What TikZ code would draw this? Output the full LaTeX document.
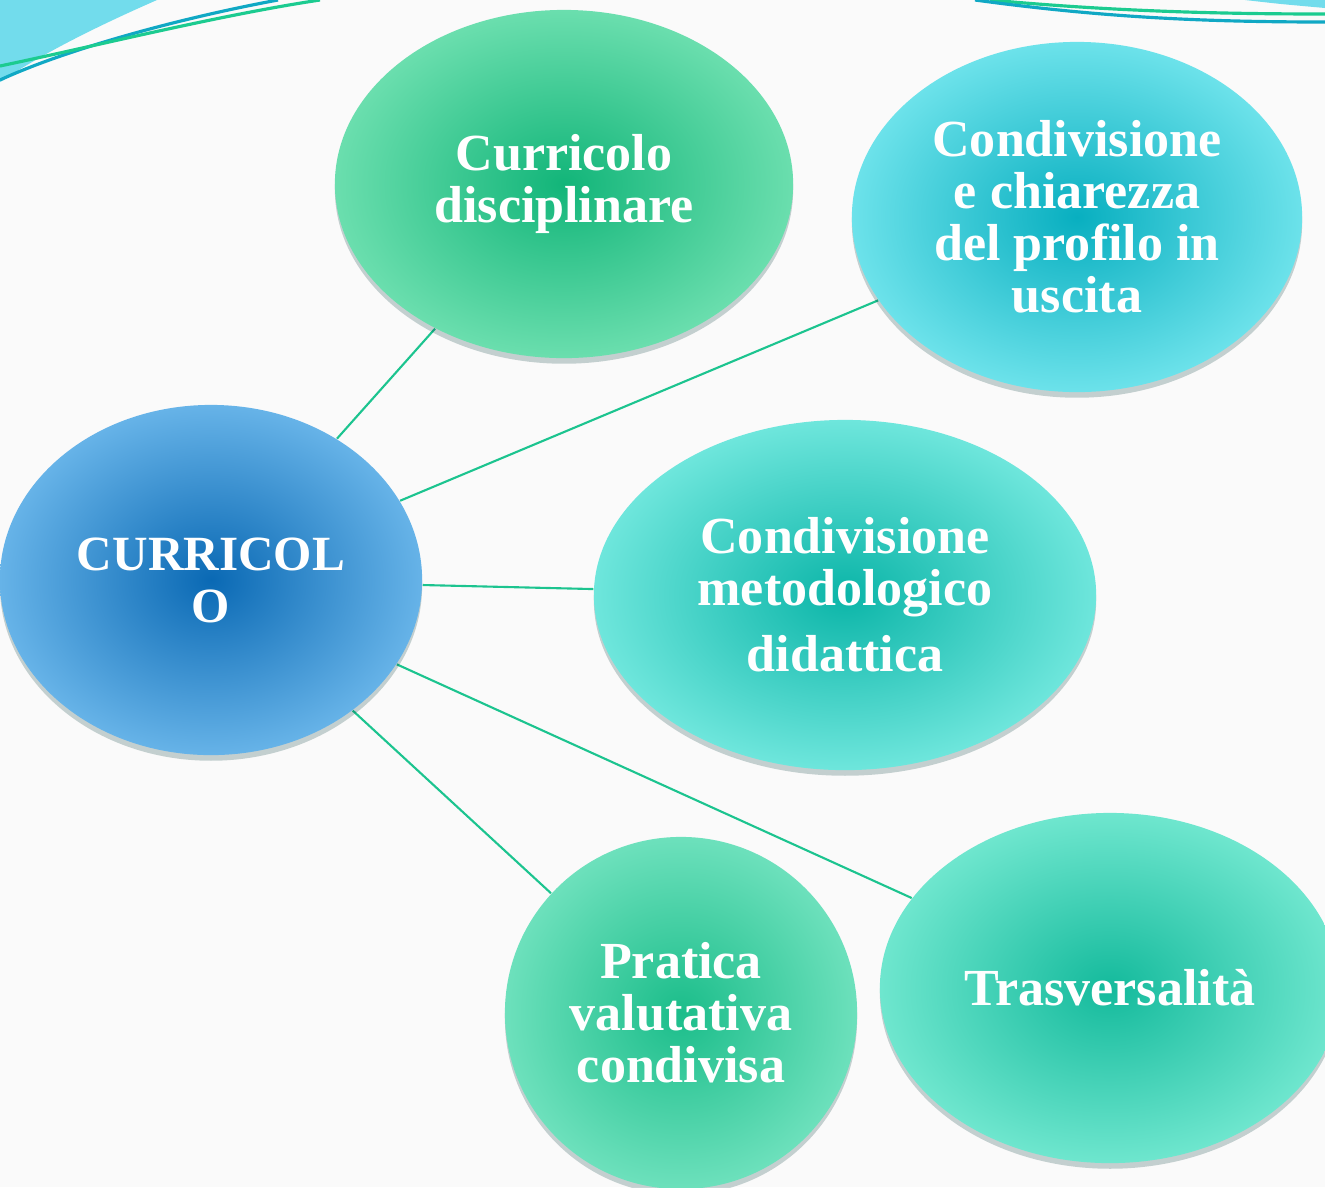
\documentclass[tikz,border=0pt]{standalone}
\usepackage{fontspec}
\setmainfont{Liberation Serif}
\usetikzlibrary{shapes.geometric,shadows,backgrounds}
\definecolor{bgcol}{HTML}{FAFAFA}
\definecolor{linkcol}{HTML}{1CC48F}
\definecolor{decocyan}{HTML}{72DCEC}
\definecolor{decoblue}{HTML}{10A8C4}
\definecolor{decogreen}{HTML}{1CCB90}
\colorlet{cin}{blue}
\colorlet{cout}{cyan}
\pgfdeclareradialshading[cin,cout]{glowshade}{\pgfpoint{0bp}{0bp}}{color(0bp)=(cin); color(26bp)=(cout); color(50bp)=(cout)}
\tikzset{
  blob/.style n args={4}{ellipse, inner sep=0pt, minimum width=#1, minimum height=#2,
    /utils/exec={\definecolor{cin}{HTML}{#3}\definecolor{cout}{HTML}{#4}},
    shade, shading=glowshade,
    drop shadow={shadow xshift=0pt, shadow yshift=-1.6pt, opacity=0.22, fill=black!55!teal},
    text=white, align=center, font=\fontsize{14.8}{14.8}\selectfont\bfseries},
  link/.style={draw=linkcol, line width=0.6pt}
}
\begin{document}
\begin{tikzpicture}[x=0.01cm, y=-0.01cm]
\useasboundingbox (0,0) rectangle (1325,1187);
\node[blob={4.22cm}{3.5cm}{0A69B4}{6AB6EA}] (cur) at (211,580) {\fontsize{14}{14.8}\selectfont CURRICOL\\\fontsize{14}{14.8}\selectfont O};
\node[blob={4.58cm}{3.48cm}{12B579}{6EE0B0}] (disc) at (564,184) {Curricolo\\disciplinare};
\node[blob={4.5cm}{3.5cm}{08AFC0}{70E4EC}] (prof) at (1077,217) {Condivisione\\e chiarezza\\del profilo in\\uscita};
\node[blob={5.02cm}{3.5cm}{0BB5A8}{72E8DE}] (met) at (845,595) {Condivisione\\metodologico\\[4pt]didattica};
\node[blob={3.52cm}{3.52cm}{1BBD8A}{70E2BE}] (prat) at (681,1013) {Pratica\\valutativa\\condivisa};
\node[blob={4.6cm}{3.5cm}{14BA9C}{72E8D0}] (tras) at (1110,988) {Trasversalità};
\begin{scope}[on background layer]
  \fill[bgcol] (0,0) rectangle (1325,1187);
  \fill[decocyan] (0,0) -- (157,0) .. controls (100,25) and (45,52) .. (0,82) -- cycle;
  \draw[decoblue, line width=0.9pt] (0,80) .. controls (60,52) and (170,20) .. (278,0);
  \draw[decogreen, line width=0.9pt] (0,66) .. controls (100,45) and (220,15) .. (320,0);
  \fill[decocyan] (1245,0) .. controls (1280,4) .. (1325,8) -- (1325,0) -- cycle;
  \draw[decogreen, line width=0.9pt] (990,0) .. controls (1100,10) and (1200,14) .. (1325,14);
  \draw[decoblue, line width=0.9pt] (975,0) .. controls (1100,17) and (1200,22) .. (1325,22);
  \draw[link] (cur) -- (disc);
  \draw[link] (cur) -- (prof);
  \draw[link] (cur) -- (met);
  \draw[link] (cur) -- (tras);
  \draw[link] (cur) -- (prat);
\end{scope}
\end{tikzpicture}
\end{document}
